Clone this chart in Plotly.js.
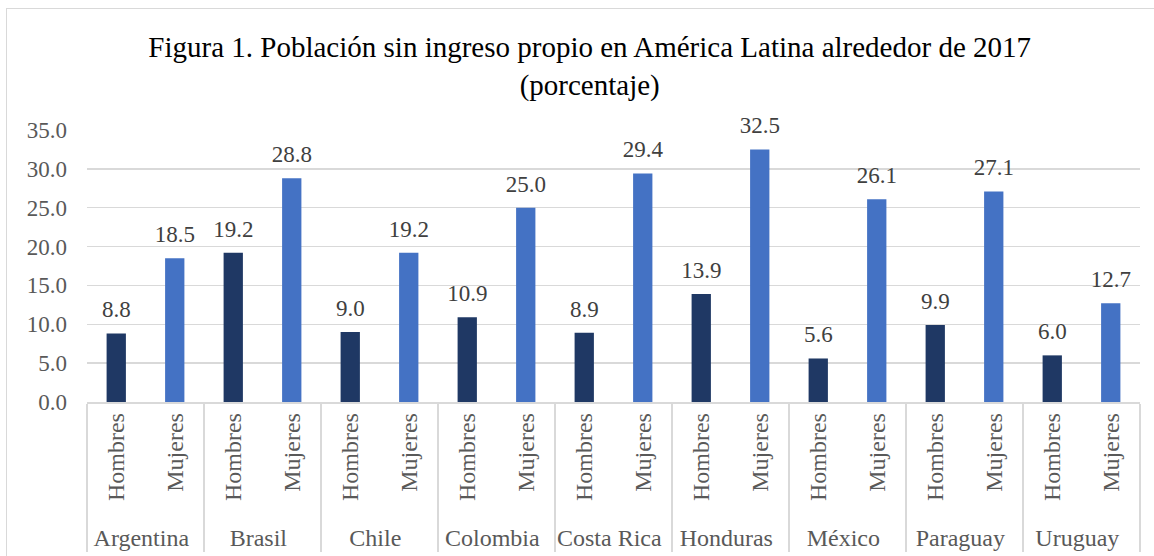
<!DOCTYPE html>
<html>
<head>
<meta charset="utf-8">
<script src="https://cdn.plot.ly/plotly-3.0.1.min.js"></script>
<style>
html,body{margin:0;padding:0;background:#fff;}
#wrap{position:relative;width:1154px;height:556px;overflow:hidden;}
#chart{position:absolute;left:0;top:0;width:1154px;height:556px;}
#frame{position:absolute;left:6px;top:8px;width:1200px;height:600px;border-left:1.5px solid #d9d9d9;border-top:1.5px solid #d9d9d9;pointer-events:none;}
</style>
</head>
<body>
<div id="wrap"><div id="chart"></div><div id="frame"></div></div>
<script>
const countries = ["Argentina","Brasil","Chile","Colombia","Costa Rica","Honduras","México","Paraguay","Uruguay"];
const sexes = ["Hombres","Mujeres"];
const hombres = [8.8, 19.2, 9.0, 10.9, 8.9, 13.9, 5.6, 9.9, 6.0];
const mujeres = [18.5, 28.8, 19.2, 25.0, 29.4, 32.5, 26.1, 27.1, 12.7];
const yTicks = [0, 5, 10, 15, 20, 25, 30, 35];

const serif = "'Liberation Serif','Times New Roman',serif";

const xCats = [[], []];
countries.forEach(c => { sexes.forEach(s => { xCats[0].push(c); xCats[1].push(s); }); });

function barTrace(vals, sex, color) {
  return {
    type: "bar",
    x: [countries, countries.map(() => sex)],
    y: vals,
    name: sex,
    marker: {color: color},
    width: 0.33,
    hoverinfo: "skip"
  };
}
function labelTrace(vals, sex) {
  return {
    type: "scatter",
    mode: "markers+text",
    x: [countries, countries.map(() => sex)],
    y: vals,
    text: vals.map(v => v.toFixed(1)),
    textposition: "top center",
    textfont: {family: serif, size: 23, color: "#404040"},
    marker: {size: 15, opacity: 0, color: "#ffffff"},
    cliponaxis: false,
    hoverinfo: "skip",
    showlegend: false
  };
}

const data = [
  barTrace(hombres, "Hombres", "#1F3864"),
  barTrace(mujeres, "Mujeres", "#4472C4"),
  labelTrace(hombres, "Hombres"),
  labelTrace(mujeres, "Mujeres")
];

const layout = {
  width: 1154, height: 556,
  margin: {l: 87, r: 14, t: 130, b: 154},
  paper_bgcolor: "#ffffff",
  plot_bgcolor: "#ffffff",
  barmode: "overlay",
  showlegend: false,
  title: {
    text: "Figura 1. Población sin ingreso propio en América Latina alrededor de 2017<br>(porcentaje)",
    font: {family: serif, size: 29, color: "#000000"},
    x: 0.511, xanchor: "center", y: 0.897, yanchor: "top"
  },
  xaxis: {
    type: "multicategory",
    categoryorder: "array",
    categoryarray: xCats,
    range: [-0.5, 17.5],
    autorange: false,
    tickangle: -90,
    tickfont: {family: serif, size: 24, color: "#595959"},
    showline: true, linecolor: "#d9d9d9", linewidth: 1.5,
    showdividers: true, dividercolor: "#d9d9d9", dividerwidth: 1.5,
    ticks: "", showgrid: false
  },
  yaxis: {
    range: [0, 35],
    autorange: false,
    tickvals: yTicks,
    ticktext: yTicks.map(v => v.toFixed(1)),
    tickfont: {family: serif, size: 23, color: "#595959"},
    gridcolor: "#d9d9d9", gridwidth: 1.5,
    zeroline: false, showline: false, ticks: "",
    ticklabelstandoff: 19
  },
  font: {family: serif}
};

Plotly.newPlot("chart", data, layout, {displayModeBar: false, staticPlot: true});
</script>
</body>
</html>
